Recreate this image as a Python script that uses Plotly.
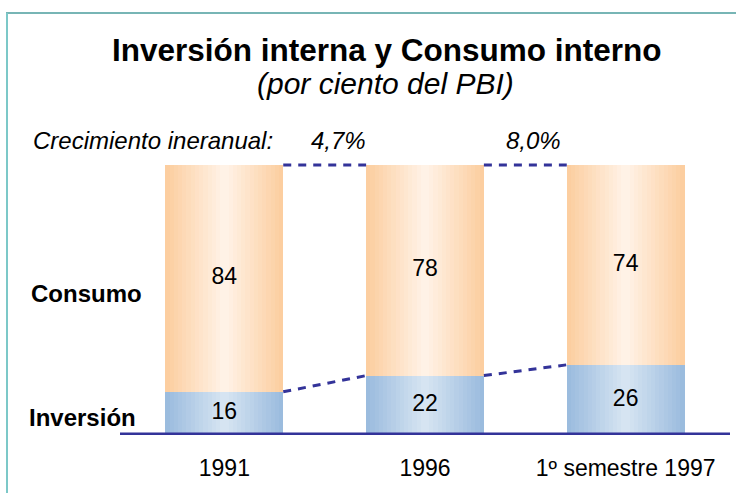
import plotly.graph_objects as go

# ---- data ----
categories = ["1991", "1996", "1º semestre 1997"]
inversion = [16, 22, 26]
consumo = [84, 78, 74]
growth_labels = ["4,7%", "8,0%"]

# ---- layout geometry (pixels) ----
W, H = 736, 493
ML, MR, MT, MB = 120, 6, 150, 58
PW, PH = W - ML - MR, H - MT - MB
XR = [-0.52, 2.52]
YR = [0, 105.56]

def px(x):
    return (x - ML) / PW

def py(y):
    return (H - MB - y) / PH

BAR_W = 0.587
N_STEPS = 14

def lerp(c1, c2, t):
    return "rgb(%d,%d,%d)" % tuple(round(a + (b - a) * t) for a, b in zip(c1, c2))

OR_EDGE, OR_CENTER = (252, 206, 160), (255, 242, 230)
BL_EDGE, BL_CENTER = (155, 188, 222), (214, 228, 242)

xs = list(range(len(categories)))
totals = [a + b for a, b in zip(inversion, consumo)]

fig = go.Figure()

# gradient simulation: overlaid bars of decreasing width
for k in range(N_STEPS):
    t = k / (N_STEPS - 1)
    w = BAR_W * (1 - k / N_STEPS)
    fig.add_trace(go.Bar(x=xs, y=inversion, width=w, marker=dict(color=lerp(BL_EDGE, BL_CENTER, t), line=dict(width=0)),
                         hoverinfo="skip", showlegend=False))
    fig.add_trace(go.Bar(x=xs, y=consumo, base=inversion, width=w,
                         marker=dict(color=lerp(OR_EDGE, OR_CENTER, t), line=dict(width=0)),
                         hoverinfo="skip", showlegend=False))

# dashed connectors between bars
for i in range(len(xs) - 1):
    xa, xb = xs[i] + BAR_W / 2, xs[i + 1] - BAR_W / 2
    for vals in (totals, inversion):
        fig.add_trace(go.Scatter(x=[xa, xb], y=[vals[i], vals[i + 1]], mode="lines",
                                 line=dict(color="#333399", width=3, dash="8px,7px"),
                                 hoverinfo="skip", showlegend=False))

# value labels
fig.add_trace(go.Scatter(x=xs, y=[v / 2 for v in inversion], mode="text", text=[str(v) for v in inversion],
                         textfont=dict(size=23, color="black", family="Liberation Sans, Arial"),
                         hoverinfo="skip", showlegend=False))
fig.add_trace(go.Scatter(x=xs, y=[a + b / 2 for a, b in zip(inversion, consumo)], mode="text",
                         text=[str(v) for v in consumo],
                         textfont=dict(size=23, color="black", family="Liberation Sans, Arial"),
                         hoverinfo="skip", showlegend=False))

font = "Liberation Sans, Arial, sans-serif"
annotations = [
    dict(text="<b>Inversión interna y Consumo interno</b>", x=px(387), y=py(50), font=dict(size=31.5)),
    dict(text="<i>(por ciento del PBI)</i>", x=px(385), y=py(84), font=dict(size=30)),
    dict(text="<i>Crecimiento ineranual:</i>", x=px(31), y=py(141), xanchor="left", font=dict(size=24)),
    dict(text="<i>" + growth_labels[0] + "</i>", x=px(338), y=py(141), font=dict(size=24)),
    dict(text="<i>" + growth_labels[1] + "</i>", x=px(533), y=py(141), font=dict(size=24)),
    dict(text="<b>Consumo</b>", x=px(29), y=py(293), xanchor="left", font=dict(size=24)),
    dict(text="<b>Inversión</b>", x=px(27), y=py(417), xanchor="left", font=dict(size=24)),
]
for a in annotations:
    a.setdefault("xanchor", "center")
    a.update(xref="paper", yref="paper", yanchor="middle", showarrow=False)
    a["font"].update(family=font, color="black")

shapes = [
    # baseline
    dict(type="line", xref="paper", yref="y", x0=0, x1=1, y0=0, y1=0, line=dict(color="#333399", width=5), layer="above"),
    # frame
    dict(type="line", xref="paper", yref="paper", x0=px(6), x1=px(736), y0=py(13), y1=py(13), line=dict(color="#4a9c9c", width=1.5)),
    dict(type="line", xref="paper", yref="paper", x0=px(7), x1=px(7), y0=py(13), y1=py(493), line=dict(color="#7cc8c8", width=2)),
]

fig.update_layout(
    width=W, height=H, autosize=False,
    margin=dict(l=ML, r=MR, t=MT, b=MB),
    paper_bgcolor="white", plot_bgcolor="white",
    barmode="overlay", bargap=0,
    showlegend=False,
    annotations=annotations, shapes=shapes,
    xaxis=dict(range=XR, tickvals=xs, ticktext=categories, showgrid=False, zeroline=False, showline=False,
               ticks="outside", ticklen=12, tickcolor="rgba(0,0,0,0)",
               tickfont=dict(size=23, family=font, color="black")),
    yaxis=dict(range=YR, visible=False, showgrid=False, zeroline=False),
)

fig.write_html("out.html", config={"displayModeBar": False},
               post_script="document.body.style.margin='0';document.body.style.overflow='hidden';")
